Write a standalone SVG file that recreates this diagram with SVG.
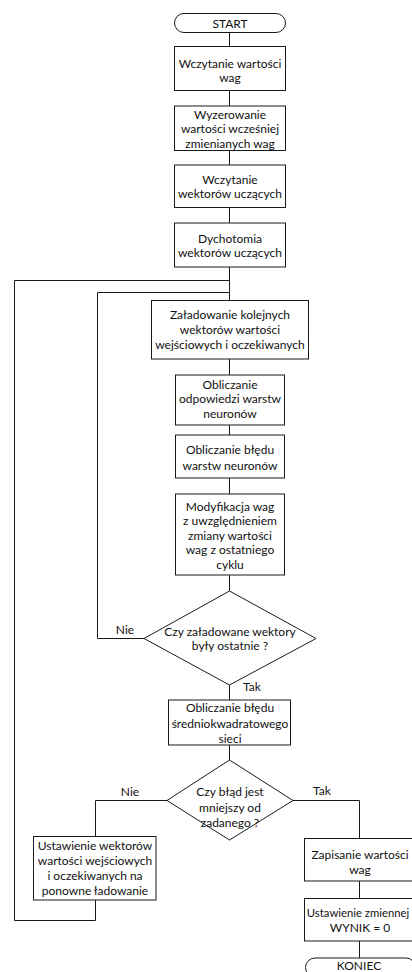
<svg xmlns="http://www.w3.org/2000/svg" width="412" height="972" viewBox="0 0 412 972">
<style>
.s{fill:#fff;stroke:#1a1a1a;stroke-width:1}
.c{fill:none;stroke:#1a1a1a;stroke-width:1}
text{font-family:Lato,"Open Sans","Liberation Sans",sans-serif;font-size:12px;fill:#111;text-anchor:middle}
</style>
<rect width="412" height="972" fill="#fff"/>
<g id="connectors">
<path class="c" d="M229.5 32.5V46.5M229.5 90.5V106M229.5 150.5V165M229.5 207.5V223M229.5 267V300.5"/>
<path class="c" d="M95.5 900V920.5H14.5V280.5H229.5"/>
<path class="c" d="M144 638.5H97.5V292.5H229.5"/>
<path class="c" d="M229.5 359V375M229.5 425V435M229.5 478V494M229.5 575V591M229.5 685V700M229.5 745V760"/>
<path class="c" d="M167 800.5H95.5V836.5"/>
<path class="c" d="M293 800.5H359.5V838.5"/>
<path class="c" d="M359.5 881V898.5M359.5 941V958"/>
</g>
<g id="start"><rect class="s" x="174.5" y="13.5" width="111" height="19" rx="9.5"/><text x="230" y="27.5">START</text></g>
<g id="n1"><rect class="s" x="174.5" y="46.5" width="111" height="44"/><text x="230" y="67.5">Wczytanie wartości</text><text x="230" y="81.5">wag</text></g>
<g id="n2"><rect class="s" x="174.5" y="106" width="111" height="44.5"/><text x="230" y="118.5">Wyzerowanie</text><text x="230" y="133">wartości wcześniej</text><text x="230" y="147.5">zmienianych wag</text></g>
<g id="n3"><rect class="s" x="174.5" y="165" width="111" height="42.5"/><text x="230" y="184">Wczytanie</text><text x="230" y="198">wektorów uczących</text></g>
<g id="n4"><rect class="s" x="174.5" y="223" width="111" height="44"/><text x="230" y="242.5">Dychotomia</text><text x="230" y="257">wektorów uczących</text></g>
<g id="n5"><rect class="s" x="151.5" y="300.5" width="157" height="58.5"/><text x="230" y="319">Załadowanie kolejnych</text><text x="230" y="334">wektorów wartości</text><text x="230" y="349">wejściowych i oczekiwanych</text></g>
<g id="n6"><rect class="s" x="175.5" y="375" width="109" height="50"/><text x="230" y="389">Obliczanie</text><text x="230" y="403">odpowiedzi warstw</text><text x="230" y="417.5">neuronów</text></g>
<g id="n7"><rect class="s" x="175.5" y="435" width="109" height="43"/><text x="230" y="454">Obliczanie błędu</text><text x="230" y="470">warstw neuronów</text></g>
<g id="n8"><rect class="s" x="175.5" y="494" width="109" height="81"/><text x="230" y="510.5">Modyfikacja wag</text><text x="230" y="525">z uwzględnieniem</text><text x="230" y="539.5">zmiany wartości</text><text x="230" y="554">wag z ostatniego</text><text x="230" y="568.5">cyklu</text></g>
<g id="d1"><polygon class="s" points="229.5,591 316,638.5 229.5,685 144,638.5"/><text x="230" y="635.5">Czy załadowane wektory</text><text x="230" y="650">były ostatnie ?</text></g>
<g id="l1"><text x="125" y="634">Nie</text></g>
<g id="l2"><text x="252" y="691">Tak</text></g>
<g id="n9"><rect class="s" x="168.5" y="700" width="122" height="45"/><text x="230" y="712">Obliczanie błędu</text><text x="230" y="728">średniokwadratowego</text><text x="230" y="743">sieci</text></g>
<g id="d2"><polygon class="s" points="229.5,760 293,800.5 229.5,840 167,800.5"/><text x="230" y="795.5">Czy błąd jest</text><text x="230" y="812">mniejszy od</text><text x="230" y="827">zadanego ?</text></g>
<g id="l3"><text x="130" y="795.5">Nie</text></g>
<g id="l4"><text x="322" y="795">Tak</text></g>
<g id="n10"><rect class="s" x="33.5" y="836.5" width="122.5" height="63.5"/><text x="95" y="850">Ustawienie wektorów</text><text x="95" y="864.5">wartości wejściowych</text><text x="95" y="880">i oczekiwanych na</text><text x="95" y="894.5">ponowne ładowanie</text></g>
<g id="n11"><rect class="s" x="304.5" y="838.5" width="112" height="42.5"/><text x="360" y="859">Zapisanie wartości</text><text x="360" y="874">wag</text></g>
<g id="n12"><rect class="s" x="304.5" y="898.5" width="112" height="42.5"/><text x="358" y="917" style="font-size:11.3px">Ustawienie zmiennej</text><text x="360" y="932">WYNIK = 0</text></g>
<g id="end"><rect class="s" x="305.5" y="958" width="110" height="19" rx="9.5"/><text x="359" y="969.5">KONIEC</text></g>
</svg>
